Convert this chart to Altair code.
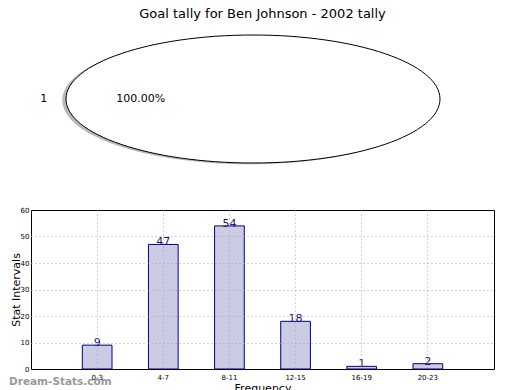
import math
import altair as alt
import pandas as pd

# ---------------- data ----------------
title_text = "Goal tally for Ben Johnson - 2002 tally"
slice_labels = ["1"]
slice_values = [100.0]

bins = ["0-3", "4-7", "8-11", "12-15", "16-19", "20-23"]
counts = [9, 47, 54, 18, 1, 2]
y_ticks = [0, 10, 20, 30, 40, 50, 60]
watermark = ["Dream-Stats.com"]

# ---------------- layout constants ----------------
FONT = "DejaVu Sans"
W = 463          # plot width (both panels)
PH = 142         # pie panel height
BH = 159         # bar panel height
RX, RY = 187, 64  # ellipse radii in px
CX = 222         # pie centre within panel (px)

# pie geometry (matplotlib-like: labels at 1.1 r, pct at 0.6 r)
total = sum(slice_values)
rows = []
start = 0.0
for lab, v in zip(slice_labels, slice_values):
    frac = v / total
    mid = math.radians(start + frac * 360.0 / 2)
    start += frac * 360.0
    rows.append({
        "label": lab,
        "pct": f"{frac * 100:.2f}%",
        "lx": 1.1 * math.cos(mid), "ly": 1.1 * math.sin(mid),
        "px": 0.6 * math.cos(mid), "py": 0.6 * math.sin(mid),
        "cx": 0.0, "cy": 0.0, "sx": -0.02, "sy": -0.02,
    })
pie_df = pd.DataFrame(rows)

k = RY / RX
c = 0.5523
ell = (f"M -1 0 C -1 {-c*k:.4f} {-c:.4f} {-k:.4f} 0 {-k:.4f} "
       f"C {c:.4f} {-k:.4f} 1 {-c*k:.4f} 1 0 "
       f"C 1 {c*k:.4f} {c:.4f} {k:.4f} 0 {k:.4f} "
       f"C {-c:.4f} {k:.4f} -1 {c*k:.4f} -1 0 Z")
SIZE = (2 * RX) ** 2

xs = alt.Scale(domain=[-CX / RX, (W - CX) / RX], nice=False, zero=False)
ys = alt.Scale(domain=[-PH / 2 / RY, PH / 2 / RY], nice=False, zero=False)

pbase = alt.Chart(pie_df)
shadow = pbase.mark_point(shape=ell, size=SIZE, filled=True, color="#8a8a8a",
                          opacity=0.6, strokeWidth=0).encode(
    x=alt.X("sx:Q", scale=xs, axis=None), y=alt.Y("sy:Q", scale=ys, axis=None))
ellipse = pbase.mark_point(shape=ell, size=SIZE, filled=True, fill="white",
                           stroke="black", strokeWidth=1, opacity=1).encode(
    x=alt.X("cx:Q", scale=xs, axis=None), y=alt.Y("cy:Q", scale=ys, axis=None))
lab_t = pbase.mark_text(align="right", baseline="middle", fontSize=11,
                        color="black", font=FONT).encode(
    x=alt.X("lx:Q", scale=xs, axis=None), y=alt.Y("ly:Q", scale=ys, axis=None),
    text="label:N")
pct_t = pbase.mark_text(align="center", baseline="middle", fontSize=11,
                        color="black", font=FONT).encode(
    x=alt.X("px:Q", scale=xs, axis=None), y=alt.Y("py:Q", scale=ys, axis=None),
    text="pct:N")

pie = alt.layer(shadow, ellipse, lab_t, pct_t).properties(
    width=W, height=PH,
    title=alt.TitleParams(title_text, fontSize=13, font=FONT, fontWeight="normal",
                          anchor="middle", offset=7, color="black"),
    view=alt.ViewBackground(strokeOpacity=0),
)

# ---------------- bar chart ----------------
bar_df = pd.DataFrame({"bin": bins, "count": counts})

xenc = alt.X("bin:N", sort=bins,
             scale=alt.Scale(paddingInner=0.551, paddingOuter=0.776),
             axis=alt.Axis(title="Frequency", labelAngle=0, labelFontSize=7,
                           labelPadding=4, ticks=False, domain=False, grid=True,
                           bandPosition=0.5, titleFontSize=11,
                           titleFontWeight="normal", titlePadding=2, zindex=1,
                           labelColor="black", titleColor="black",
                           gridDash=[1, 3], gridColor="#a8a8a8", gridWidth=1))
yenc = alt.Y("count:Q", scale=alt.Scale(domain=[0, 60], nice=False),
             axis=alt.Axis(title="Stat Intervals", values=y_ticks, tickCount=7,
                           labelOverlap=False, labelFontSize=7,
                           labelPadding=2, ticks=False, domain=False, grid=True,
                           gridOpacity={"condition": {"test": "datum.value === 0 || datum.value === 60", "value": 0}, "value": 1},
                           titleFontSize=11, titleFontWeight="normal",
                           titlePadding=-1, zindex=1, labelColor="black",
                           titleColor="black",
                           gridDash=[1, 3], gridColor="#a8a8a8", gridWidth=1))

bbase = alt.Chart(bar_df)
bars = bbase.mark_bar(fill="#cbcbe3", stroke="#000080", strokeWidth=1).encode(x=xenc, y=yenc)
vals = bbase.mark_text(baseline="alphabetic", dy=1, fontSize=11, color="#1a1a80",
                       font=FONT).encode(x=alt.X("bin:N", sort=bins), y="count:Q",
                                         text="count:Q")
wm = alt.Chart(pd.DataFrame({"t": watermark})).mark_text(
    align="left", baseline="alphabetic", fontSize=10.5, fontWeight="bold",
    color="#888888", opacity=0.85, font=FONT).encode(
    text="t:N", x=alt.value(-22), y=alt.value(BH + 16))

barchart = alt.layer(bars, vals, wm).properties(width=W, height=BH)

chart = alt.vconcat(pie, barchart, spacing=35).properties(padding=0).configure(
    font=FONT).configure_view(stroke="black", strokeWidth=1)

chart.save("out.html", embed_options={"renderer": "svg", "actions": False})
